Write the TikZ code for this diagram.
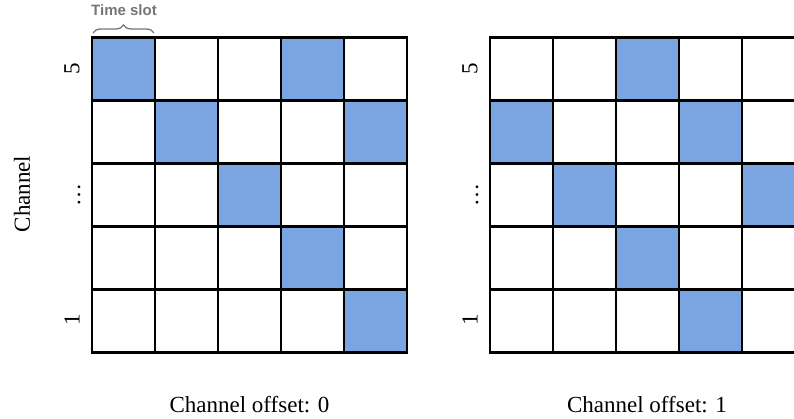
\documentclass[tikz,border=0pt]{standalone}
\usepackage{fontspec}
\setmainfont{Liberation Serif}
\newfontfamily\labelsans{Liberation Sans}
\usetikzlibrary{decorations.pathreplacing}
\definecolor{cellblue}{RGB}{122,165,224}
\definecolor{slotgray}{RGB}{118,118,118}
\begin{document}
\begin{tikzpicture}[x=1pt,y=-1pt,
  gridline/.style={line width=2.4pt,black,line cap=rect},
  lab/.style={font=\fontsize{23}{27}\selectfont,inner sep=0pt},
  rlab/.style={lab,rotate=90}]
\clip (0,0) rectangle (794,419);
\useasboundingbox (0,0) rectangle (794,419);
\fill[white] (0,0) rectangle (794,419);
% left grid (offset 0)
\foreach \c/\r in {0/0,3/0,1/1,4/1,2/2,3/3,4/4}
  \fill[cellblue] ({92+63*\c},{37.5+63*\r}) rectangle ++(63,63);
\foreach \i in {0,...,5} {
  \draw[gridline] ({92+63*\i},37.5) -- ++(0,315);
  \draw[gridline] (92,{37.5+63*\i}) -- ++(315,0);
}
% right grid (offset 1)
\foreach \c/\r in {2/0,0/1,3/1,1/2,4/2,2/3,3/4}
  \fill[cellblue] ({490+63*\c},{37.5+63*\r}) rectangle ++(63,63);
\foreach \i in {0,...,5} {
  \draw[gridline] ({490+63*\i},37.5) -- ++(0,315);
  \draw[gridline] (490,{37.5+63*\i}) -- ++(315,0);
}
% labels
\node[rlab] (chan) at (22,194) {Channel};
\node[rlab] (l5) at (72,69) {5};
\node[rlab] (ldots) at (79,195) {\dots};
\node[rlab] (l1) at (72,320) {1};
\node[rlab] (r5) at (470,69) {5};
\node[rlab] (rdots) at (477,195) {\dots};
\node[rlab] (r1) at (470,320) {1};
\node[lab,anchor=base] (off0) at (249.5,412) {Channel offset: 0};
\node[lab,anchor=base] (off1) at (647,412) {Channel offset: 1};
% time slot brace
\draw[slotgray,line width=1.3pt,decorate,decoration={brace,amplitude=8pt}] (93,33) -- (154,33);
\node[font=\labelsans\bfseries\fontsize{15}{18}\selectfont,text=slotgray,inner sep=0pt,anchor=base] (ts) at (124,15.5) {Time slot};
\end{tikzpicture}
\end{document}
